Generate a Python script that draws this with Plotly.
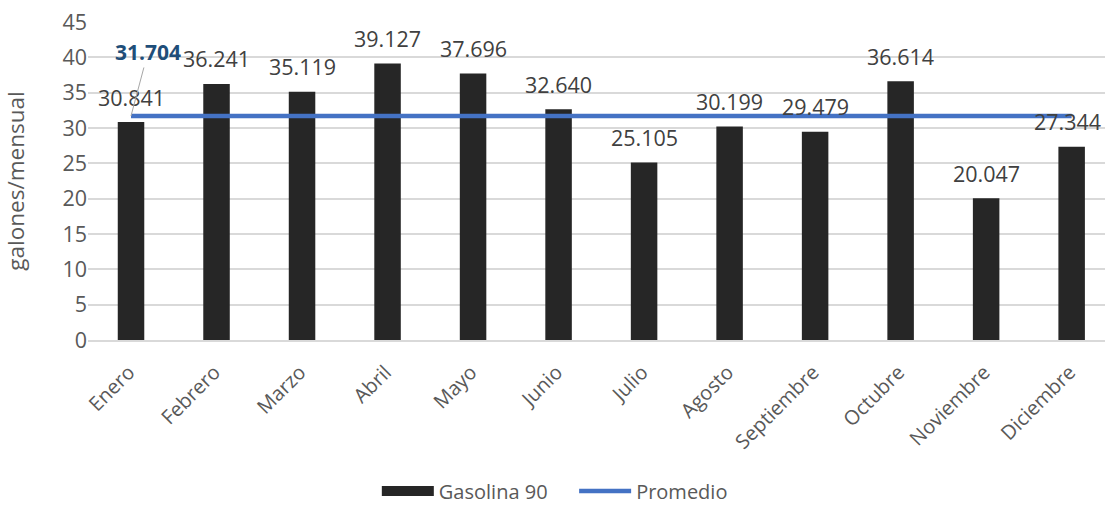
import plotly.graph_objects as go

meses = ["Enero", "Febrero", "Marzo", "Abril", "Mayo", "Junio", "Julio",
         "Agosto", "Septiembre", "Octubre", "Noviembre", "Diciembre"]
gasolina_90 = [30.841, 36.241, 35.119, 39.127, 37.696, 32.640, 25.105,
               30.199, 29.479, 36.614, 20.047, 27.344]
promedio_valor = 31.704
promedio = [promedio_valor] * len(meses)
y_ticks = [0, 5, 10, 15, 20, 25, 30, 35, 40, 45]

FONT = "Open Sans"
GRAY = "#595959"
BAR_COLOR = "#262626"

fig = go.Figure()
fig.add_trace(go.Bar(
    x=meses, y=gasolina_90, name="Gasolina 90",
    marker=dict(color=BAR_COLOR, line=dict(width=0)),
    width=0.31, showlegend=False,
))
# legend entry drawn as a wide block like the reference
fig.add_trace(go.Scatter(
    x=[None], y=[None], name="Gasolina 90", mode="lines",
    line=dict(color=BAR_COLOR, width=15), legend="legend",
))
fig.add_trace(go.Scatter(
    x=meses, y=promedio, name="Promedio", mode="lines",
    line=dict(color="#4472C4", width=4.5), legend="legend2",
))

for i, (m, v) in enumerate(zip(meses, gasolina_90)):
    fig.add_annotation(x=m, y=v, text=f"{v:.3f}", showarrow=False,
                       yshift=25, xshift=-4 if i == len(meses) - 1 else 0,
                       font=dict(family=FONT, size=21.5, color="#404040"))

fig.add_annotation(x=meses[0], y=promedio_valor, text=f"<b>{promedio_valor:.3f}</b>",
                   showarrow=True, arrowhead=0, arrowwidth=1, arrowcolor="#A6A6A6",
                   ax=17, ay=-64, standoff=0,
                   font=dict(family=FONT, size=21, color="#1F4E79"))

legend_style = dict(orientation="h", yanchor="middle", y=-0.4746, xanchor="left",
                    font=dict(family=FONT, size=20, color=GRAY), itemwidth=52,
                    bgcolor="rgba(0,0,0,0)", borderwidth=0)

fig.update_layout(
    width=1105, height=506,
    margin=dict(l=88, r=0, t=22, b=166, autoexpand=False),
    plot_bgcolor="white", paper_bgcolor="white",
    font=dict(family=FONT, size=20, color=GRAY),
    showlegend=True,
    legend=dict(x=0.284, **legend_style),
    legend2=dict(x=0.478, **legend_style),
    xaxis=dict(type="category", range=[-0.503, 11.39], tickangle=-45, automargin=False,
               showline=True, linecolor="#D9D9D9", linewidth=1.5,
               ticklabelstandoff=11, ticklabelshift=-2,
               showgrid=False, ticks="", tickfont=dict(size=20, color=GRAY)),
    yaxis=dict(range=[0, 45], tickvals=y_ticks, showgrid=True, gridcolor="#D9D9D9",
               gridwidth=1.5, zeroline=False, showline=False, ticks="", automargin=False,
               tickfont=dict(size=21.5, color=GRAY),
               title=dict(text="galones/mensual", font=dict(size=22.5, color=GRAY), standoff=33)),
)

fig.write_html("out.html", config={"displayModeBar": False},
               post_script="document.body.style.margin='0';")
